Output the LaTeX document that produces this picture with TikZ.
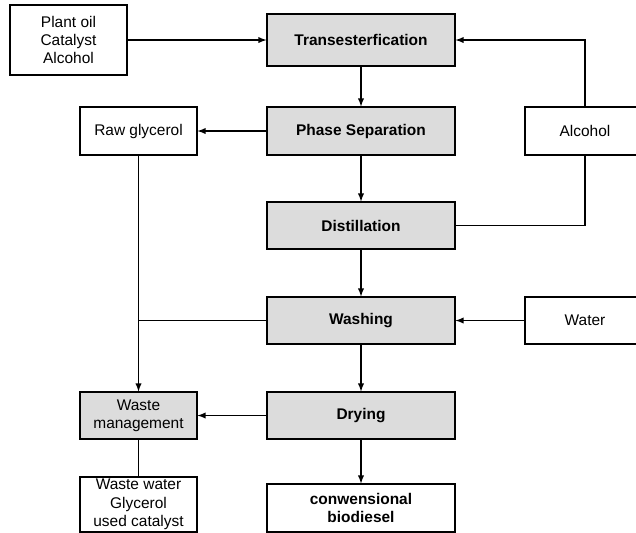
\documentclass[tikz,border=0pt]{standalone}
\usepackage{fontspec}
\setmainfont{Liberation Sans}
\usetikzlibrary{arrows}
\usetikzlibrary{positioning}
\definecolor{procgray}{HTML}{DCDCDC}

\begin{document}
\begin{tikzpicture}[x=0.02cm, y=-0.02cm, line width=0.6pt,
                    font=\fontsize{8.8}{10.4}\selectfont]
    \tikzstyle{proc}=[draw, fill=procgray, font=\fontsize{8.8}{10.4}\selectfont\bfseries,
                      minimum width=188*0.02cm, align=center, inner sep=0pt]
    \tikzstyle{inout}=[draw, fill=white, align=center, inner sep=0pt]
    \tikzstyle{flow}=[-latex]
    \clip (0,0) rectangle (636,532);
    % main process line
    \node[proc, minimum height=52*0.02cm] (trans) at (361,40) {Transesterfication};
    \node[proc, minimum height=48*0.02cm] (phase) at (361,131) {Phase Separation};
    \node[proc, minimum height=47*0.02cm] (dist) at (361,225.5) {Distillation};
    \node[proc, minimum height=47*0.02cm] (wash) at (361,320.5) {Washing};
    \node[proc, minimum height=47*0.02cm] (dry) at (361,415.5) {Drying};
    \node[inout, font=\fontsize{8.8}{10.4}\selectfont\bfseries, minimum width=188*0.02cm,
          minimum height=48*0.02cm] (bio) at (361,508) {conwensional\\biodiesel};
    % inputs and outputs
    \node[inout, minimum width=117*0.02cm, minimum height=70*0.02cm] (feed) at (68.5,40)
        {Plant oil\\Catalyst\\Alcohol};
    \node[inout, minimum width=117*0.02cm, minimum height=48*0.02cm] (raw) at (138.5,131) {Raw glycerol};
    \node[inout, minimum width=120*0.02cm, minimum height=48*0.02cm] (alc) at (585,131) {Alcohol};
    \node[inout, minimum width=120*0.02cm, minimum height=47*0.02cm] (water) at (585,320.5) {Water};
    \node[proc, font=\fontsize{8.8}{10.4}\selectfont, minimum width=117*0.02cm,
          minimum height=47*0.02cm] (waste) at (138.5,415.5) {Waste\\management};
    \node[inout, minimum width=117*0.02cm, minimum height=55*0.02cm] (wastew) at (138.5,504.5)
        {Waste water\\Glycerol\\used catalyst};
    \coordinate (join) at (raw.south |- wash.west);
    % Connect the steps
    \foreach \from/\to in {trans/phase, phase/dist, dist/wash, wash/dry, dry/bio}
        \draw[flow] (\from) -- (\to);
    \draw[flow] (feed) -- (trans);
    \draw[flow] (phase) -- (raw);
    \draw[flow] (water) -- (wash);
    \draw[flow] (dry) -- (waste);
    \draw[flow] (raw) -- (waste);
    \draw[flow] (alc.north) |- (trans.east);
    \draw (dist.east) -| (alc.south);
    \draw (wash.west) -- (join);
    \draw (waste) -- (wastew);
\end{tikzpicture}
\end{document}
